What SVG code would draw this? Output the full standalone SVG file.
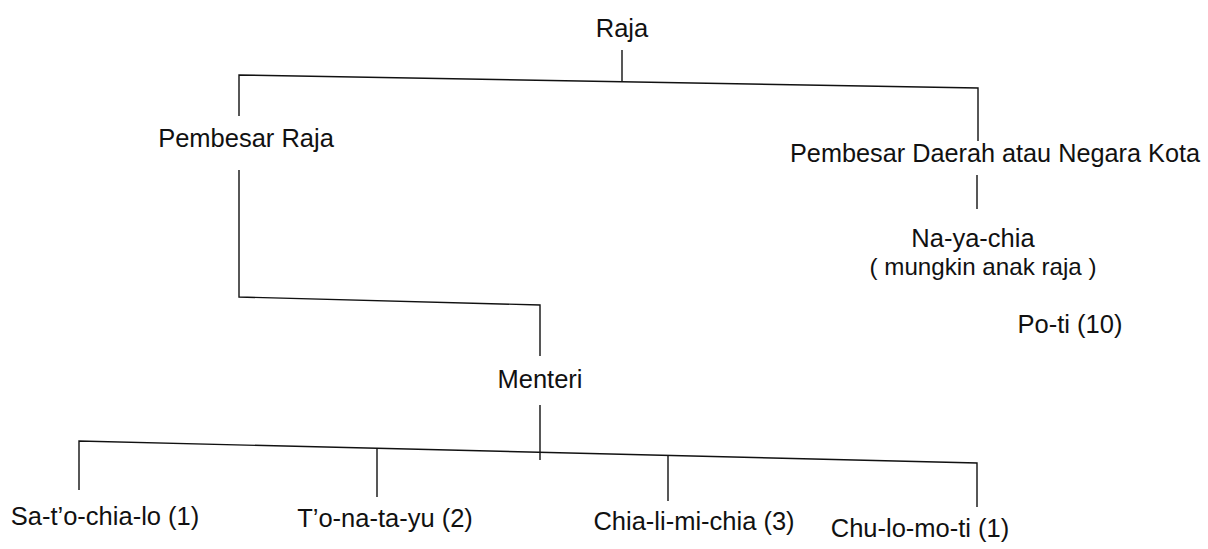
<svg xmlns="http://www.w3.org/2000/svg" width="1208" height="549" viewBox="0 0 1208 549">
<style>
text{font-family:"Liberation Sans","Noto Sans",sans-serif;font-size:25.5px;fill:#111;}
.c{text-anchor:middle;}
.ln{fill:none;stroke:#111;stroke-width:1.4;}
</style>
<rect width="1208" height="549" fill="#fff"/>
<g id="connectors">
<line class="ln" x1="622" y1="50" x2="622" y2="81"/>
<polyline class="ln" points="239,116 239,75 978,88 978,141"/>
<polyline class="ln" points="239,170 239,297 540,305 540,356"/>
<line class="ln" x1="977" y1="175" x2="977" y2="209"/>
<line class="ln" x1="540" y1="405" x2="540" y2="460"/>
<polyline class="ln" points="79,490 79,441 977,463 977,507"/>
<line class="ln" x1="377" y1="448" x2="377" y2="497"/>
<line class="ln" x1="668" y1="456" x2="668" y2="501"/>
</g>
<g id="raja"><text class="c" x="622" y="37">Raja</text></g>
<g id="pembesar-raja"><text class="c" x="246" y="147">Pembesar Raja</text></g>
<g id="pembesar-daerah"><text class="c" x="995" y="162" textLength="410" lengthAdjust="spacingAndGlyphs">Pembesar Daerah atau Negara Kota</text></g>
<g id="nayachia"><text class="c" x="973" y="247">Na-ya-chia</text><text class="c" x="983" y="274.5" style="font-size:24px" textLength="227" lengthAdjust="spacingAndGlyphs">( mungkin anak raja )</text></g>
<g id="poti"><text class="c" x="1070" y="333">Po-ti (10)</text></g>
<g id="menteri"><text class="c" x="540" y="388">Menteri</text></g>
<g id="satochialo"><text class="c" x="105" y="525">Sa-t’o-chia-lo (1)</text></g>
<g id="tonatayu"><text class="c" x="385" y="527">T’o-na-ta-yu (2)</text></g>
<g id="chialimichia"><text class="c" x="694" y="530">Chia-li-mi-chia (3)</text></g>
<g id="chulomoti"><text class="c" x="920" y="537">Chu-lo-mo-ti (1)</text></g>
</svg>
